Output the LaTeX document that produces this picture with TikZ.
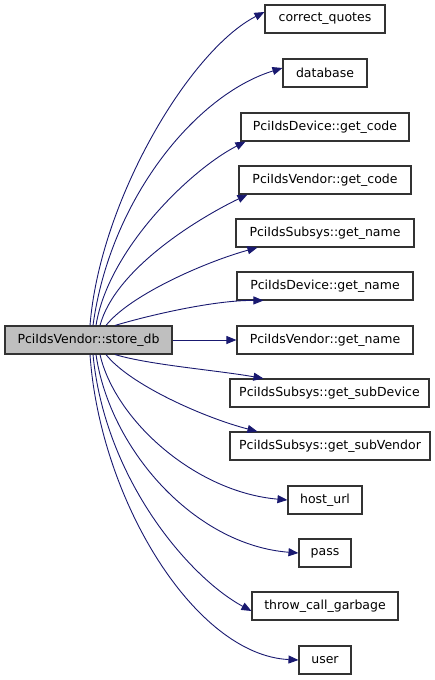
\documentclass[tikz,border=0pt]{standalone}
\usepackage{fontspec}
\setmainfont{DejaVu Sans}
\usetikzlibrary{arrows.meta}
\definecolor{edgeblue}{HTML}{191970}
\definecolor{boxline}{HTML}{333333}
\definecolor{srcfill}{HTML}{BFBFBF}
\begin{document}
\begin{tikzpicture}[x=1pt,y=-1pt,
  fn/.style={draw=boxline, line width=1.1pt, fill=white, minimum height=28pt, inner sep=0pt,
    font=\fontsize{12.5}{14}\selectfont, anchor=center},
  src/.style={fn, fill=srcfill},
  call/.style={draw=edgeblue, line width=0.9pt, -{Triangle[length=10pt,width=8pt]}, fill=none},
]
\useasboundingbox (0,0) rectangle (435,680);
\node[src, minimum width=167pt] (s) at (88.5,340) {PciIdsVendor::store\_db};
\node[fn, minimum width=120pt] (t1) at (325,19) {correct\_quotes};
\node[fn, minimum width=84pt] (t2) at (325,73) {database};
\node[fn, minimum width=168pt] (t3) at (325,127) {PciIdsDevice::get\_code};
\node[fn, minimum width=172pt] (t4) at (325,180) {PciIdsVendor::get\_code};
\node[fn, minimum width=178pt] (t5) at (325,233) {PciIdsSubsys::get\_name};
\node[fn, minimum width=176pt] (t6) at (325,286) {PciIdsDevice::get\_name};
\node[fn, minimum width=176pt] (t7) at (325,340) {PciIdsVendor::get\_name};
\node[fn, minimum width=199pt] (t8) at (329.5,393) {PciIdsSubsys::get\_subDevice};
\node[fn, minimum width=200pt] (t9) at (330,446) {PciIdsSubsys::get\_subVendor};
\node[fn, minimum width=74pt] (t10) at (325,500) {host\_url};
\node[fn, minimum width=52pt] (t11) at (325,553) {pass};
\node[fn, minimum width=146pt] (t12) at (325,606) {throw\_call\_garbage};
\node[fn, minimum width=52pt] (t13) at (325,660) {user};

\draw[call] (s.north -| 90,0) .. controls (100,200) and (190,50) .. ([yshift=7pt]t1.west);
\draw[call] (s.north -| 93,0) .. controls (110,200) and (195,95) .. ([yshift=5pt]t2.west);
\draw[call] (s.north -| 96,0) .. controls (108,250) and (190,170) .. ([xshift=5pt]t3.south west);
\draw[call] (s.north -| 100,0) .. controls (115,270) and (195,220) .. ([xshift=9pt]t4.south west);
\draw[call] (s.north -| 106,0) .. controls (130,295) and (205,262) .. ([xshift=22pt]t5.south west);
\draw[call] (s.north -| 115,0) .. controls (150,315) and (215,300) .. ([xshift=27pt]t6.south west);
\draw[call] (s.east) -- (t7.west);
\draw[call] (s.south -| 115,0) .. controls (150,365) and (215,370) .. ([xshift=34pt]t8.north west);
\draw[call] (s.south -| 106,0) .. controls (130,385) and (205,418) .. ([xshift=28pt]t9.north west);
\draw[call] (s.south -| 100,0) .. controls (115,420) and (195,492) .. (t10.west);
\draw[call] (s.south -| 96,0) .. controls (110,450) and (195,545) .. (t11.west);
\draw[call] (s.south -| 93,0) .. controls (105,480) and (190,578) .. ([yshift=-5pt]t12.west);
\draw[call] (s.south -| 90,0) .. controls (100,500) and (195,655) .. (t13.west);
\end{tikzpicture}
\end{document}
